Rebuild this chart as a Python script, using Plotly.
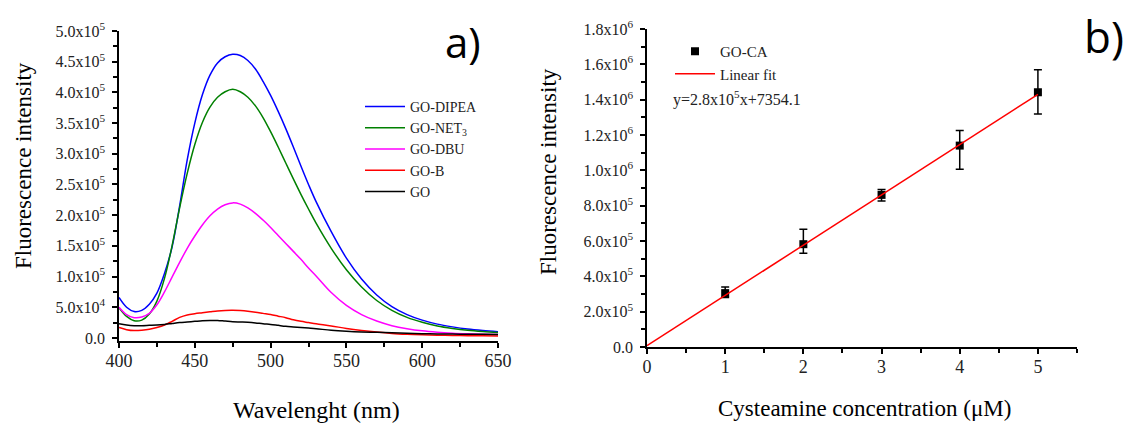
import plotly.graph_objects as go

# ---------------- Panel a) data ----------------
wavelength = [400, 405, 410, 415, 420, 425, 430, 435, 440, 445, 450, 455, 460, 465, 470, 475,
              480, 485, 490, 495, 500, 505, 510, 515, 520, 525, 530, 540, 550, 560, 570, 580,
              590, 600, 610, 620, 630, 640, 650]

go_dipea = [6.6e4, 5.0e4, 4.3e4, 4.5e4, 5.5e4, 7.3e4, 1.05e5, 1.48e5, 2.15e5, 2.90e5, 3.50e5, 3.96e5,
            4.28e5, 4.48e5, 4.58e5, 4.62e5, 4.60e5, 4.52e5, 4.38e5, 4.18e5, 3.95e5, 3.69e5, 3.41e5,
            3.11e5, 2.80e5, 2.50e5, 2.22e5, 1.73e5, 1.30e5, 9.6e4, 7.0e4, 5.1e4, 3.8e4, 2.9e4,
            2.25e4, 1.8e4, 1.45e4, 1.2e4, 1.0e4]

go_net3 = [4.9e4, 3.5e4, 2.8e4, 2.9e4, 3.9e4, 6.0e4, 9.7e4, 1.50e5, 2.12e5, 2.68e5, 3.15e5, 3.51e5,
           3.76e5, 3.92e5, 4.01e5, 4.05e5, 4.01e5, 3.92e5, 3.78e5, 3.59e5, 3.36e5, 3.11e5, 2.85e5,
           2.59e5, 2.34e5, 2.10e5, 1.87e5, 1.46e5, 1.11e5, 8.3e4, 6.1e4, 4.5e4, 3.35e4, 2.55e4,
           1.95e4, 1.55e4, 1.25e4, 1.05e4, 9.0e3]

go_dbu = [5.0e4, 3.8e4, 3.3e4, 3.4e4, 4.0e4, 5.4e4, 7.5e4, 9.9e4, 1.23e5, 1.46e5, 1.66e5, 1.84e5,
          1.99e5, 2.10e5, 2.17e5, 2.20e5, 2.18e5, 2.12e5, 2.03e5, 1.92e5, 1.80e5, 1.67e5, 1.54e5,
          1.41e5, 1.28e5, 1.14e5, 1.01e5, 7.4e4, 5.3e4, 3.8e4, 2.75e4, 2.0e4, 1.5e4, 1.15e4,
          9.3e3, 7.8e3, 6.8e3, 6.1e3, 5.6e3]

go_b = [1.7e4, 1.35e4, 1.2e4, 1.25e4, 1.4e4, 1.7e4, 2.1e4, 2.7e4, 3.35e4, 3.75e4, 3.95e4, 4.1e4,
        4.25e4, 4.4e4, 4.48e4, 4.5e4, 4.45e4, 4.35e4, 4.2e4, 4.0e4, 3.8e4, 3.55e4, 3.3e4,
        2.95e4, 2.7e4, 2.5e4, 2.3e4, 1.95e4, 1.55e4, 1.22e4, 9.5e3, 7.3e3, 5.9e3, 5.0e3,
        4.4e3, 4.0e3, 3.7e3, 3.5e3, 3.3e3]

go_ref = [2.3e4, 2.1e4, 2.0e4, 2.0e4, 2.05e4, 2.1e4, 2.2e4, 2.35e4, 2.5e4, 2.6e4, 2.7e4, 2.8e4,
          2.85e4, 2.85e4, 2.75e4, 2.65e4, 2.6e4, 2.55e4, 2.45e4, 2.3e4, 2.2e4, 2.05e4, 1.9e4,
          1.8e4, 1.7e4, 1.6e4, 1.5e4, 1.25e4, 1.08e4, 9.7e3, 9.2e3, 8.5e3, 7.8e3, 7.0e3,
          6.5e3, 6.2e3, 6.0e3, 5.8e3, 5.6e3]

series_names_a = ["GO-DIPEA", "GO-NET<sub>3</sub>", "GO-DBU", "GO-B", "GO"]
series_colors_a = ["#0000ff", "#008000", "#ff00ff", "#ff0000", "#000000"]

ticks_a_x = [400, 450, 500, 550, 600, 650]
ticks_a_y = [0, 5e4, 1e5, 1.5e5, 2e5, 2.5e5, 3e5, 3.5e5, 4e5, 4.5e5, 5e5]
ticktext_a_y = ["0.0", "5.0x10<sup>4</sup>", "1.0x10<sup>5</sup>", "1.5x10<sup>5</sup>",
                "2.0x10<sup>5</sup>", "2.5x10<sup>5</sup>", "3.0x10<sup>5</sup>",
                "3.5x10<sup>5</sup>", "4.0x10<sup>5</sup>", "4.5x10<sup>5</sup>",
                "5.0x10<sup>5</sup>"]

# ---------------- Panel b) data ----------------
concentration = [1, 2, 3, 4, 5]
intensity = [3.05e5, 5.82e5, 8.61e5, 1.14e6, 1.442e6]
err_plus = [3.4e4, 8.5e4, 3.0e4, 8.5e4, 1.28e5]
err_minus = [2.5e4, 5.1e4, 3.5e4, 1.34e5, 1.23e5]

fit_x = [0, 5]
fit_y = [7354.1, 1.43e6]

ticks_b_x = [0, 1, 2, 3, 4, 5]
ticks_b_y = [0, 2e5, 4e5, 6e5, 8e5, 1e6, 1.2e6, 1.4e6, 1.6e6, 1.8e6]
ticktext_b_y = ["0.0", "2.0x10<sup>5</sup>", "4.0x10<sup>5</sup>", "6.0x10<sup>5</sup>",
                "8.0x10<sup>5</sup>", "1.0x10<sup>6</sup>", "1.2x10<sup>6</sup>",
                "1.4x10<sup>6</sup>", "1.6x10<sup>6</sup>", "1.8x10<sup>6</sup>"]

SERIF = "Liberation Serif"
W, H = 1127, 423

fig = go.Figure()

for name, vals, col in zip(series_names_a, [go_dipea, go_net3, go_dbu, go_b, go_ref], series_colors_a):
    fig.add_trace(go.Scatter(x=wavelength, y=vals, mode="lines", name=name,
                             line=dict(color=col, width=1.5, shape="spline", smoothing=1.0),
                             xaxis="x", yaxis="y", legend="legend"))

fig.add_trace(go.Scatter(x=concentration, y=intensity, mode="markers", name="GO-CA",
                         marker=dict(symbol="square", size=8, color="black"),
                         error_y=dict(type="data", symmetric=False, array=err_plus,
                                      arrayminus=err_minus, color="black", thickness=1.5, width=4),
                         xaxis="x2", yaxis="y2", legend="legend2"))
fig.add_trace(go.Scatter(x=fit_x, y=fit_y, mode="lines", name="Linear fit",
                         line=dict(color="#ff0000", width=1.5),
                         xaxis="x2", yaxis="y2", legend="legend2"))


def px_x(p):
    return p / W


def px_y(p):
    return 1 - p / H


axis_common = dict(showline=True, linecolor="black", linewidth=1.5, ticks="outside",
                   ticklen=5, tickwidth=1.5, tickcolor="black", showgrid=False, zeroline=False,
                   mirror=False, automargin=False)
xtickfont = dict(size=18, family=SERIF, color="#222222")
ytickfont = dict(size=16, family=SERIF, color="#222222")

fig.update_layout(
    width=W, height=H, margin=dict(l=0, r=0, t=0, b=0, autoexpand=False),
    paper_bgcolor="white", plot_bgcolor="white",
    font=dict(family=SERIF, color="black"),
    xaxis=dict(domain=[px_x(119), px_x(498)], range=[400, 650], tickvals=ticks_a_x,
               tickfont=xtickfont, anchor="y", ticklabelstandoff=-2,
               minor=dict(dtick=25, ticks="outside", ticklen=4, tickwidth=1.5, tickcolor="black"),
               **axis_common),
    yaxis=dict(domain=[px_y(341), px_y(31)], range=[-5000, 500000], tickvals=ticks_a_y,
               ticktext=ticktext_a_y, tickfont=ytickfont, anchor="x", ticklabelstandoff=4,
               minor=dict(dtick=25000, tick0=0, ticks="outside", ticklen=4, tickwidth=1.5,
                          tickcolor="black"),
               **axis_common),
    xaxis2=dict(domain=[px_x(647), px_x(1077)], range=[0, 5.5], tickvals=ticks_b_x,
                tickfont=xtickfont, anchor="y2", ticklabelstandoff=-2,
                minor=dict(dtick=0.5, ticks="outside", ticklen=4, tickwidth=1.5, tickcolor="black"),
                **axis_common),
    yaxis2=dict(domain=[px_y(347), px_y(29)], range=[0, 1.8e6], tickvals=ticks_b_y,
                ticktext=ticktext_b_y, tickfont=ytickfont, anchor="x2", ticklabelstandoff=4,
                minor=dict(dtick=1e5, tick0=0, ticks="outside", ticklen=4, tickwidth=1.5,
                           tickcolor="black"),
                **axis_common),
    legend=dict(x=px_x(360), y=px_y(91), xanchor="left", yanchor="top",
                bgcolor="rgba(0,0,0,0)", font=dict(size=14, family=SERIF, color="#222222"),
                itemwidth=40, tracegroupgap=0),
    legend2=dict(x=px_x(670), y=px_y(35), xanchor="left", yanchor="top",
                 bgcolor="rgba(0,0,0,0)", font=dict(size=15, family=SERIF, color="#222222"),
                 itemwidth=40, tracegroupgap=0),
    showlegend=True,
)

annotations = [
    dict(text="Fluorescence intensity", x=px_x(23), y=px_y(166), textangle=-90,
         font=dict(size=23, family=SERIF)),
    dict(text="Wavelenght (nm)", x=px_x(316), y=px_y(410), font=dict(size=24, family=SERIF)),
    dict(text="Fluorescence intensity", x=px_x(549), y=px_y(172), textangle=-90,
         font=dict(size=23, family=SERIF)),
    dict(text="Cysteamine concentration (\u03bcM)", x=px_x(864), y=px_y(408),
         font=dict(size=23, family=SERIF)),
    dict(text="y=2.8x10<sup>5</sup>x+7354.1", x=px_x(671), y=px_y(98), xanchor="left",
         font=dict(size=16, family=SERIF, color="#222222")),
    dict(text="a)", x=px_x(463), y=px_y(41), font=dict(size=42, family="Open Sans")),
    dict(text="b)", x=px_x(1104), y=px_y(36), font=dict(size=44, family="Open Sans")),
]
for a in annotations:
    a.setdefault("xanchor", "center")
    a.update(xref="paper", yref="paper", yanchor="middle", showarrow=False)
fig.update_layout(annotations=annotations)

fig.write_html("out.html", config={"displayModeBar": False},
               post_script="document.body.style.margin='0';document.body.style.padding='0';")
